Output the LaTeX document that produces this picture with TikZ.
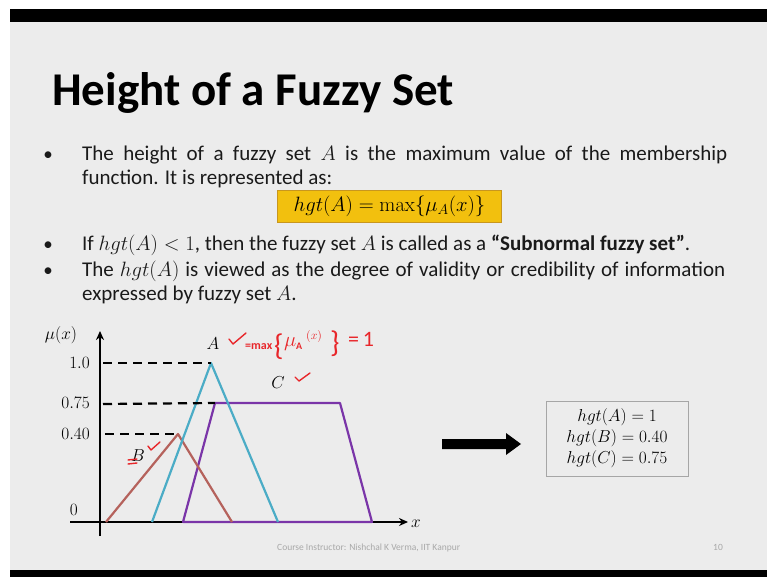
\documentclass[tikz,border=0pt]{standalone}
\usepackage[no-math]{fontspec}
\setmainfont{Carlito}
\usetikzlibrary{arrows.meta}
\definecolor{slidebg}{HTML}{ECECEC}
\definecolor{boxfill}{HTML}{F2C00E}
\definecolor{boxedge}{HTML}{C8961E}
\definecolor{setA}{HTML}{4BACC6}
\definecolor{setB}{HTML}{B5625C}
\definecolor{setC}{HTML}{7A35A8}
\definecolor{penred}{HTML}{E8262A}
\definecolor{footgray}{HTML}{A8A8A8}
\definecolor{textgray}{HTML}{1A1A1A}
\tikzset{
  bodytext/.style={anchor=base west, inner sep=0pt, text=textgray, font=\fontsize{21}{25}\selectfont},
  bulletdot/.style={anchor=base, inner sep=0pt, text=textgray, font=\fontsize{19}{23}\selectfont},
  ticklabel/.style={anchor=base east, inner sep=0pt, font=\fontsize{16}{19}\selectfont},
  levelline/.style={black, line width=2.2pt, dash pattern=on 9pt off 6pt},
  axisline/.style={black, line width=1.6pt},
  memb/.style={line width=2.2pt, line join=round},
  pen/.style={penred, line width=1.4pt, line cap=round, line join=round},
  pentext/.style={anchor=base west, inner sep=0pt, text=penred},
}
\begin{document}
\begin{tikzpicture}[x=1pt, y=-1pt]
\useasboundingbox (0,0) rectangle (767,577);
% frame of the slide
\fill[white] (0,0) rectangle (767,577);
\fill[black] (10,9) rectangle (767,22);
\fill[slidebg] (10,22) rectangle (767,570);
\fill[black] (10,570) rectangle (767,577);

% title
\node[anchor=base west, inner sep=0pt, font=\fontsize{47}{51}\selectfont\bfseries] (title) at (52,106) {Height of a Fuzzy Set};

% first bullet
\node[bulletdot] (b1) at (48,161) {•};
\node[bodytext] (l1) at (82,161) {\hbox to 645pt{The height of a fuzzy set $A$ is the maximum value of the membership}};
\node[bodytext] (l2) at (82,185) {function. It is represented as:};

% highlighted formula
\node[draw=boxedge, fill=boxfill, line width=1pt, minimum width=224pt, minimum height=31pt, inner sep=0pt,
      font=\fontsize{20}{24}\selectfont] (formula) at (389.5,206.5) {$hgt(A)=\max\{\mu_A(x)\}$};

% second bullet
\node[bulletdot] (b2) at (48,250) {•};
\node[bodytext] (l3) at (82,250) {If $hgt(A)<1$, then the fuzzy set $A$ is called as a \textbf{“Subnormal fuzzy set”}.};

% third bullet
\node[bulletdot] (b3) at (48,276) {•};
\node[bodytext] (l4) at (82,276) {\hbox to 643pt{The $hgt(A)$ is viewed as the degree of validity or credibility of information}};
\node[bodytext] (l5) at (82,300) {expressed by fuzzy set $A$.};

% axes
\coordinate (o) at (100,522);
\coordinate (ytop) at (100,331);
\coordinate (ybot) at (100,536);
\coordinate (xleft) at (70,522);
\coordinate (xright) at (408,522);
\draw[axisline, -{Stealth[length=9pt,width=8pt]}] (ybot) -- (ytop);
\draw[axisline, -{Stealth[length=9pt,width=8pt]}] (xleft) -- (xright);
\node[anchor=base west, inner sep=0pt, font=\fontsize{18}{20}\selectfont] (xl) at (411,527) {$x$};
\node[anchor=base, inner sep=0pt, font=\fontsize{17}{20}\selectfont] (mul) at (61,339) {$\mu(x)$};

% level labels
\node[ticklabel] (t1) at (90,368) {$1.0$};
\node[ticklabel] (t2) at (90,408) {$0.75$};
\node[ticklabel] (t3) at (90,439) {$0.40$};
\node[ticklabel] (t0) at (78,515) {$0$};

% membership functions
\coordinate (a0) at (152,522); \coordinate (a1) at (211,363); \coordinate (a2) at (278,522);
\coordinate (b0) at (106,522); \coordinate (b1p) at (178,434); \coordinate (b2p) at (232,522);
\coordinate (c0) at (183,522); \coordinate (c1) at (215,403); \coordinate (c2) at (340,403); \coordinate (c3) at (372,522);
\draw[memb, setC] (c0) -- (c1) -- (c2) -- (c3) -- cycle;
\draw[memb, setB] (b0) -- (b1p) -- (b2p);
\draw[memb, setA] (a0) -- (a1) -- (a2);

% dashed height levels
\draw[levelline] (103,363) -- (a1);
\draw[levelline] (103,404) -- (c1);
\draw[levelline] (105,434) -- (b1p);

% set names
\node[anchor=base, inner sep=0pt, font=\fontsize{18}{20}\selectfont] (nA) at (213,349) {$A$};
\node[anchor=base, inner sep=0pt, font=\fontsize{18}{20}\selectfont] (nC) at (278,388) {$C$};
\node[anchor=base, inner sep=0pt, font=\fontsize{18}{20}\selectfont] (nB) at (138,461) {$B$};

% handwritten red notes
\draw[pen] (229,339) -- (233,344) -- (246,333);
\node[pentext, font=\fontsize{12}{14}\selectfont\bfseries] (eqmax) at (245,349) {=max};
\node[pentext, font=\fontsize{30}{30}\selectfont] (lbr) at (274,355) {\{};
\node[pentext, font=\fontsize{22}{24}\selectfont] (muA) at (284,346) {$\mu$};
\node[pentext, font=\fontsize{10}{12}\selectfont\bfseries] (subA) at (296,349) {A};
\node[pentext, font=\fontsize{12}{14}\selectfont] (argx) at (306,339) {$(x)$};
\node[pentext, font=\fontsize{30}{30}\selectfont] (rbr) at (330,352) {\}};
\node[pentext, font=\fontsize{22}{24}\selectfont] (eqone) at (348,346) {=\,1};
\draw[pen] (295,377) -- (299,381) -- (310,373);
\draw[pen] (148,446) -- (151,450) -- (160,442);
\draw[pen] (128,460) -- (137,459);
\draw[pen] (128,464) -- (137,463);

% result arrow and summary
\fill[black] (442,439) -- (506,439) -- (506,433) -- (521,444) -- (506,455) -- (506,449) -- (442,449) -- cycle;
\coordinate (arrowtip) at (521,444);
\node[draw=gray!70, line width=1pt, fill=slidebg, minimum width=142pt, minimum height=75pt, inner sep=0pt, align=center,
      font=\fontsize{19}{21}\selectfont] (summary) at (617,438.5)
  {$hgt(A)=1$\\ $hgt(B)=0.40$\\ $hgt(C)=0.75$};

% footer
\node[anchor=base west, inner sep=0pt, text=footgray, font=\fontsize{9.5}{11}\selectfont] (foot) at (277,550) {Course Instructor: Nishchal K Verma, IIT Kanpur};
\node[anchor=base west, inner sep=0pt, text=footgray, font=\fontsize{9.5}{11}\selectfont] (page) at (713,550) {10};
\end{tikzpicture}
\end{document}
